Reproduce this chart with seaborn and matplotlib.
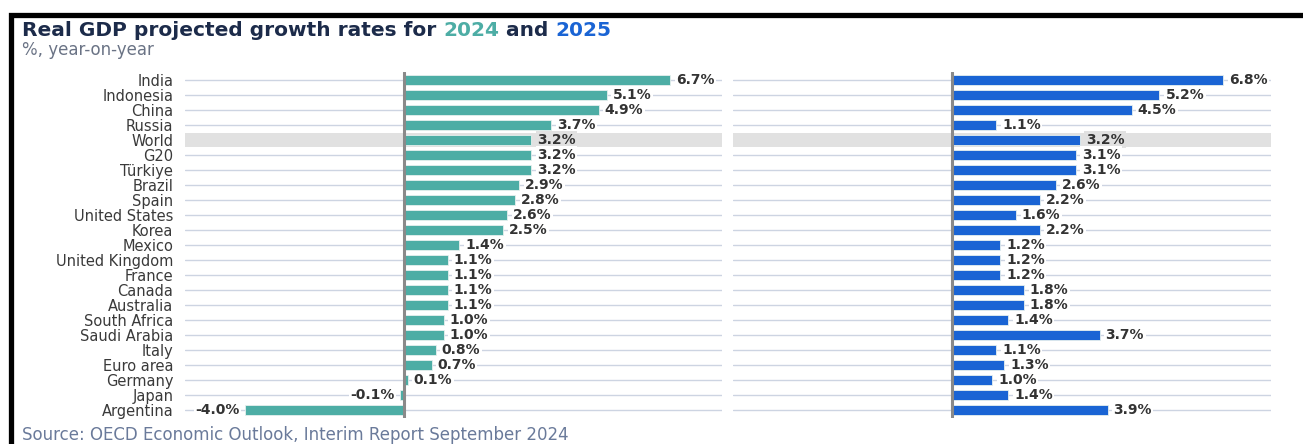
import matplotlib
matplotlib.use("Agg")
import matplotlib.pyplot as plt
import seaborn as sns
import pandas as pd
from matplotlib.patches import Rectangle

countries = ["India", "Indonesia", "China", "Russia", "World", "G20", "Türkiye", "Brazil",
             "Spain", "United States", "Korea", "Mexico", "United Kingdom", "France", "Canada",
             "Australia", "South Africa", "Saudi Arabia", "Italy", "Euro area", "Germany",
             "Japan", "Argentina"]
growth_2024 = [6.7, 5.1, 4.9, 3.7, 3.2, 3.2, 3.2, 2.9, 2.8, 2.6, 2.5, 1.4, 1.1, 1.1, 1.1,
               1.1, 1.0, 1.0, 0.8, 0.7, 0.1, -0.1, -4.0]
growth_2025 = [6.8, 5.2, 4.5, 1.1, 3.2, 3.1, 3.1, 2.6, 2.2, 1.6, 2.2, 1.2, 1.2, 1.2, 1.8,
               1.8, 1.4, 3.7, 1.1, 1.3, 1.0, 1.4, 3.9]
highlight = "World"

TEAL = "#4dada5"
BLUE = "#1a64d4"
NAVY = "#1c2b4a"
GRID = "#cdd4e2"

sns.set_theme(style="white")
plt.rcParams["font.family"] = ["DejaVu Sans"]

W, H = 1303, 444
fig = plt.figure(figsize=(W / 100, H / 100), dpi=100)

n = len(countries)
row_px = 15.71
top_px = 80 - row_px / 2
bot_px = 410 + row_px / 2
ax_b = (H - bot_px) / H
ax_h = (bot_px - top_px) / H
ax1 = fig.add_axes([185 / W, ax_b, (722 - 185) / W, ax_h])
ax2 = fig.add_axes([733 / W, ax_b, (1271 - 733) / W, ax_h])

df = pd.DataFrame({"country": countries, "y2024": growth_2024, "y2025": growth_2025})

for ax, col, color in [(ax1, "y2024", TEAL), (ax2, "y2025", BLUE)]:
    hi = countries.index(highlight)
    ax.axhspan(hi - 0.46, hi + 0.46, color="#e1e1e1", zorder=0, lw=0)
    for i in range(n):
        if i != hi:
            ax.axhline(i, color=GRID, lw=1, zorder=0.5)
    sns.barplot(data=df, x=col, y="country", orient="h", color=color, width=0.66,
                edgecolor="#e6f0ee", linewidth=0.6, saturation=1, ax=ax, zorder=2)
    ax.axvline(0, color="#8a8a8a", lw=2.2, zorder=3)
    ax.set_xlim(-5.5, 8.0)
    ax.set_ylim(n - 0.5, -0.5)
    ax.set_xlabel("")
    ax.set_ylabel("")
    ax.set_xticks([])
    for s in ax.spines.values():
        s.set_visible(False)
    ax.tick_params(axis="y", length=0, pad=8.5)
    for i, v in enumerate(df[col]):
        bg = "#e1e1e1" if i == hi else "white"
        if v >= 0:
            x, ha = v + 0.15, "left"
        else:
            x, ha = v - 0.12, "right"
        ax.text(x, i, f"{v:.1f}%", ha=ha, va="center", fontsize=10, fontweight="bold",
                color="#333333", zorder=4,
                bbox=dict(facecolor=bg, edgecolor="none", pad=1.0))

ax1.set_yticks(range(n))
ax1.set_yticklabels(countries, fontsize=10.5, color="#3a3a3a")
ax2.set_yticks(range(n))
ax2.set_yticklabels([])

# Title with colored years
renderer = fig.canvas.get_renderer()
pieces = [("Real GDP projected growth rates for ", NAVY), ("2024", TEAL), (" and ", NAVY), ("2025", BLUE)]
x = 22 / W
for txt, c in pieces:
    t = fig.text(x, 1 - 31 / H, txt, fontsize=14.5, fontweight="bold", color=c, va="center", ha="left")
    bb = t.get_window_extent(renderer=renderer)
    x += bb.width / W

fig.text(22 / W, 1 - 50 / H, "%, year-on-year", fontsize=12, color="#6a7385", va="center", ha="left")
fig.text(22 / W, 1 - 435 / H, "Source: OECD Economic Outlook, Interim Report September 2024",
         fontsize=12, color="#6a7a9a", va="center", ha="left")

# black frame (top and left edges)
fig.patches.append(Rectangle((10.5 / W, -0.2), 1.2, (H - 15.5) / H + 0.2, transform=fig.transFigure,
                             fill=False, edgecolor="black", lw=3.8, zorder=10))

fig.savefig("out.png", dpi=100)
